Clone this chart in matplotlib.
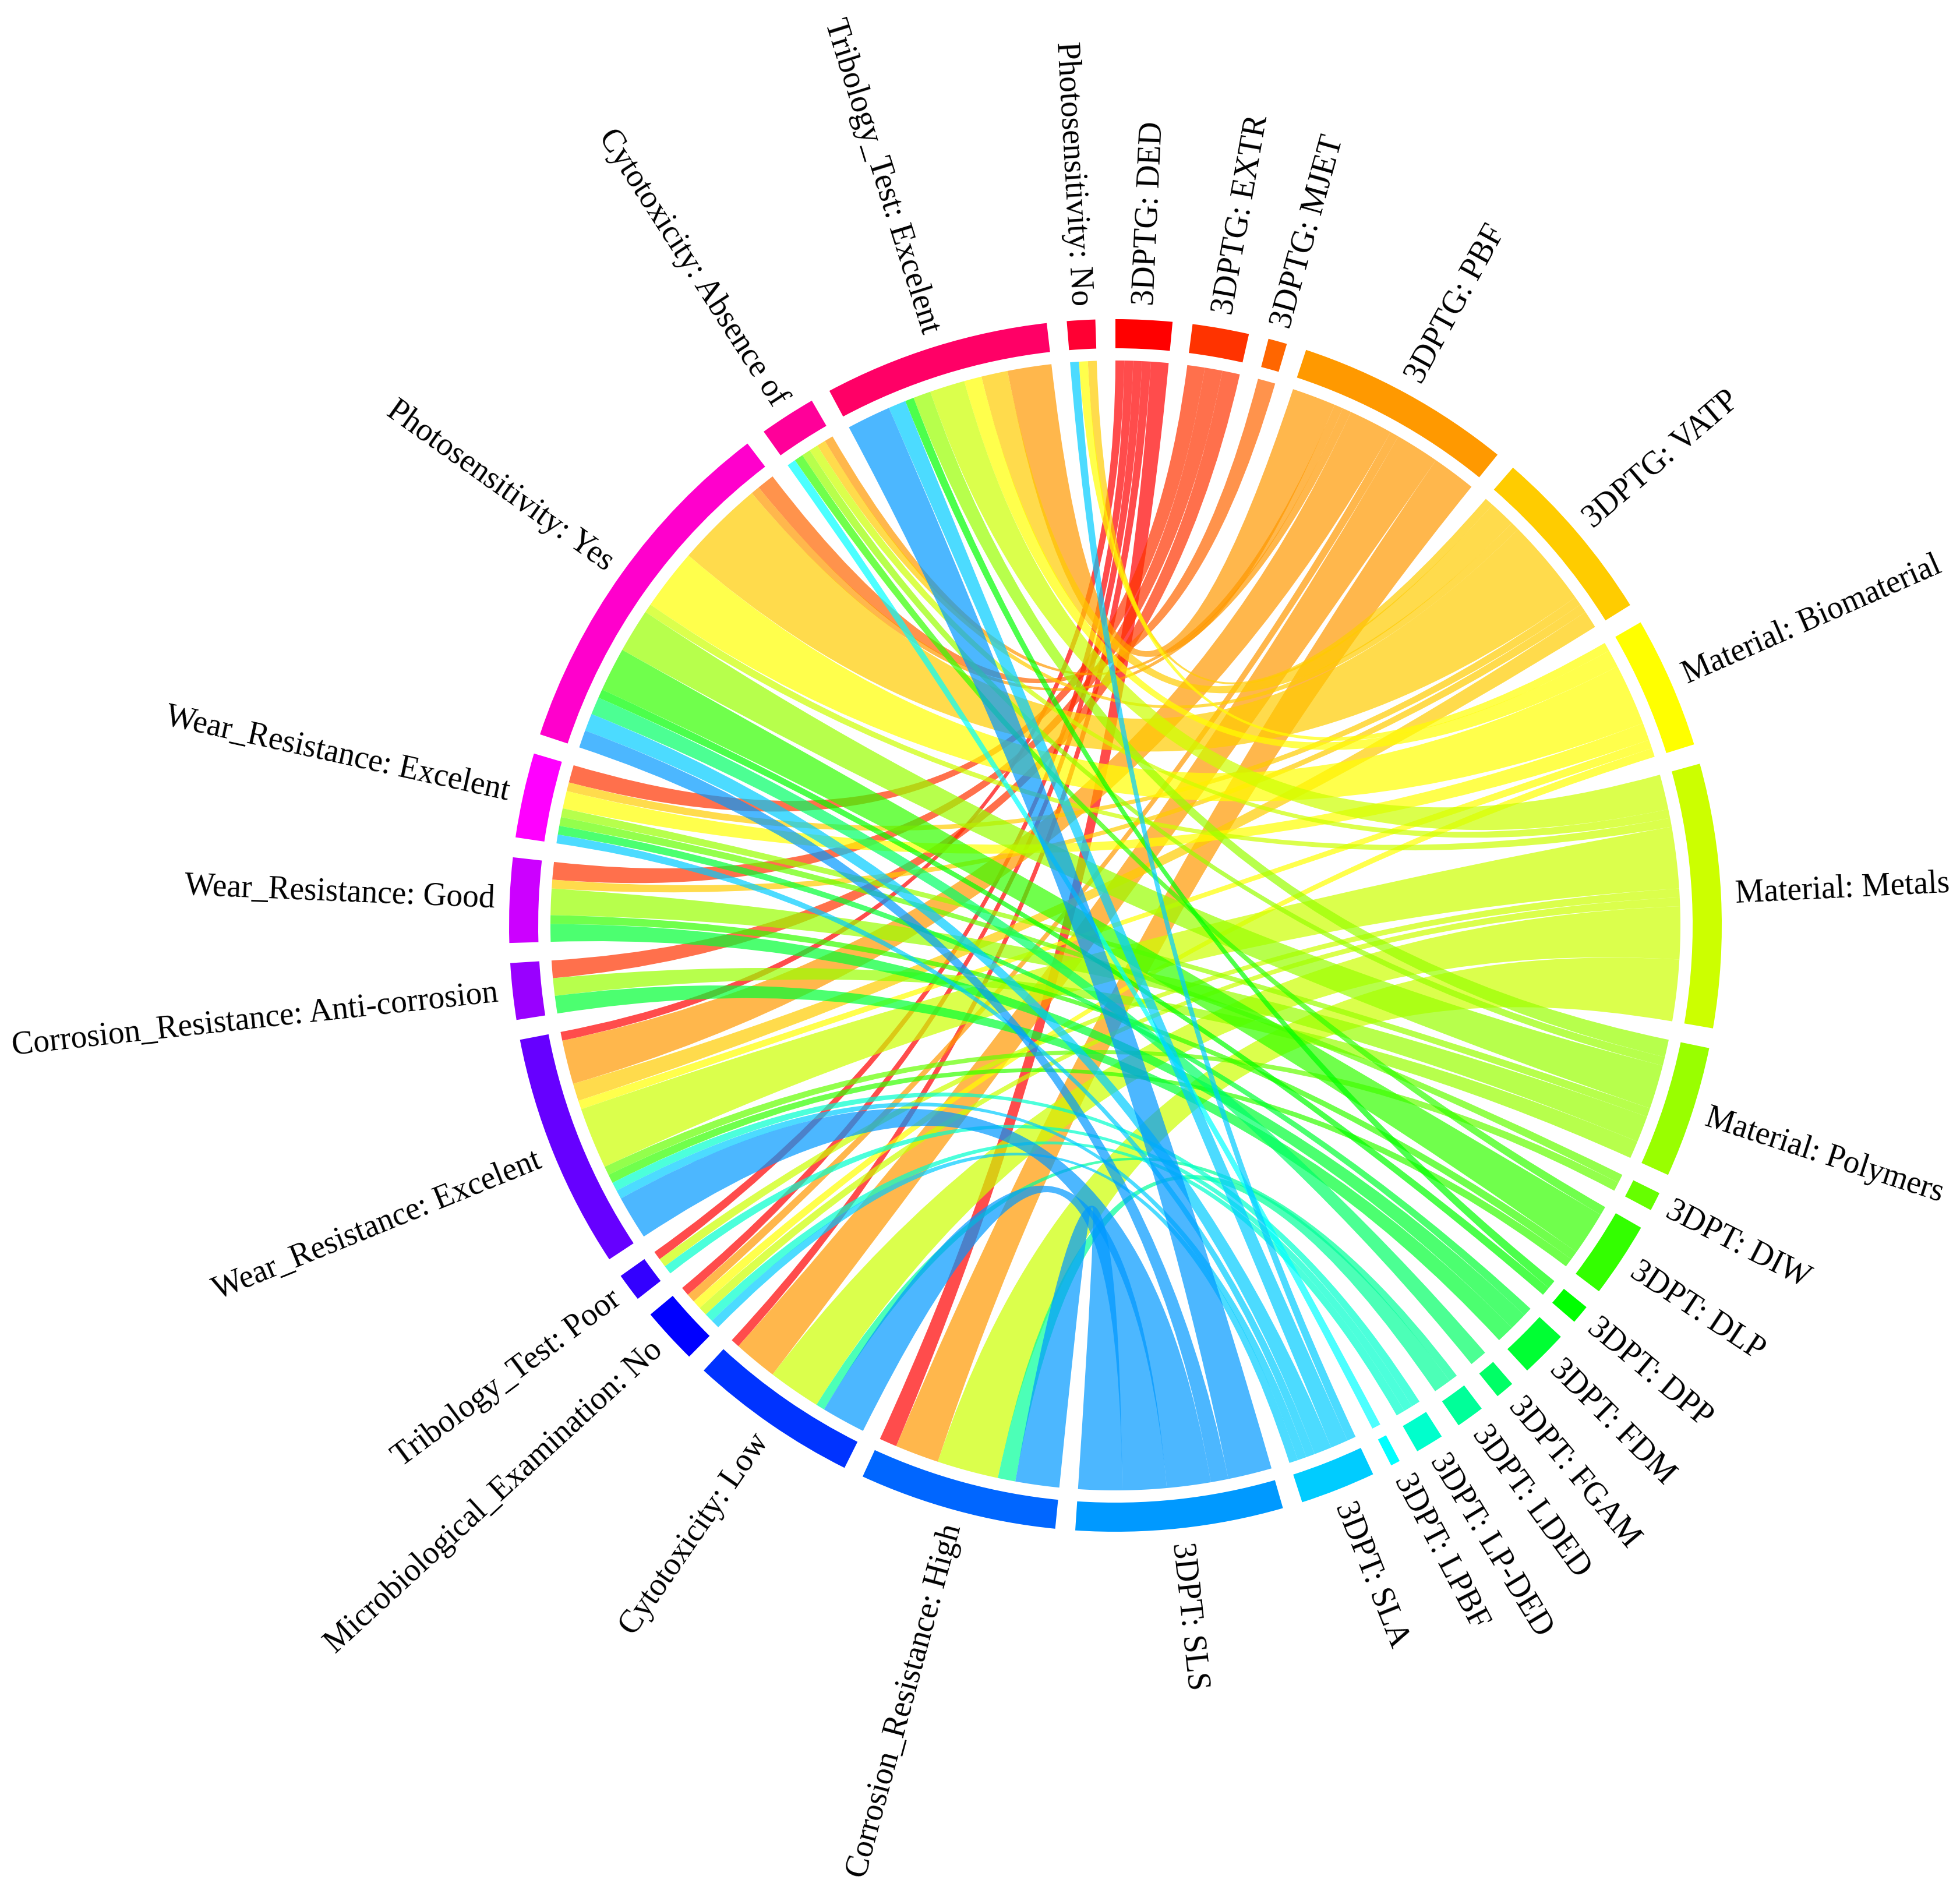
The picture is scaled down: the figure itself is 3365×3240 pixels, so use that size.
import colorsys
import numpy as np
import matplotlib
matplotlib.use("Agg")
import matplotlib.pyplot as plt
from matplotlib.patches import Wedge, PathPatch
from matplotlib.path import Path

plt.rcParams['font.family'] = ['Liberation Serif', 'DejaVu Serif']

sources = ["3DPTG: DED", "3DPTG: EXTR", "3DPTG: MJET", "3DPTG: PBF", "3DPTG: VATP",
           "Material: Biomaterial", "Material: Metals", "Material: Polymers",
           "3DPT: DIW", "3DPT: DLP", "3DPT: DPP", "3DPT: FDM", "3DPT: FGAM", "3DPT: LDED",
           "3DPT: LP-DED", "3DPT: LPBF", "3DPT: SLA", "3DPT: SLS"]
targets = ["Corrosion_Resistance: High", "Cytotoxicity: Low", "Microbiological_Examination: No",
           "Tribology_Test: Poor", "Wear_Resistance: Excelent", "Corrosion_Resistance: Anti-corrosion",
           "Wear_Resistance: Good", "Wear_Resistance: Excelent", "Photosensitivity: Yes",
           "Cytotoxicity: Absence of", "Tribology_Test: Excelent", "Photosensitivity: No"]

# one list per target, one value per source (same order as sources)
#                   DED EX MJ PBF VA Bi Me Po DI DL DP FD FG LD LP LB SA SS
corrosion_high   = [2, 0, 0, 5, 0, 0, 7, 0, 0, 0, 0, 0, 0, 2, 0, 0, 0, 5]
cytotox_low      = [1, 0, 0, 5, 0, 0, 6, 0, 0, 0, 0, 0, 0, 1, 0, 0, 0, 5]
microbio_no      = [1, 0, 0, 1, 0, 1, 1, 0, 0, 0, 0, 0, 0, 0, 1, 0, 1, 0]
tribology_poor   = [1, 0, 0, 0, 0, 0, 1, 0, 0, 0, 0, 0, 0, 0, 1, 0, 0, 0]
wear_excel_a     = [1, 0, 0, 5, 2, 1, 7, 0, 1, 1, 0, 0, 0, 0, 1, 0, 1, 5]
corrosion_anti   = [0, 2, 0, 0, 0, 0, 0, 2, 0, 0, 0, 2, 0, 0, 0, 0, 0, 0]
wear_good        = [0, 2, 0, 0, 1, 0, 0, 3, 0, 1, 0, 2, 0, 0, 0, 0, 0, 0]
wear_excel_b     = [0, 2, 0, 0, 1, 2, 0, 1, 1, 0, 0, 1, 0, 0, 0, 0, 1, 0]
photo_yes        = [0, 0, 2, 1, 10, 7, 1, 5, 0, 5, 1, 0, 2, 0, 0, 0, 2, 2]
cytotox_absence  = [0, 0, 0, 1, 1, 0, 1, 1, 0, 1, 0, 0, 0, 0, 0, 1, 0, 0]
tribology_excel  = [0, 0, 0, 5, 3, 2, 4, 2, 0, 0, 1, 0, 0, 0, 0, 0, 2, 5]
photo_no         = [0, 0, 0, 0, 1, 1, 0, 0, 0, 0, 0, 0, 0, 0, 0, 0, 1, 0]

flows = np.array([corrosion_high, cytotox_low, microbio_no, tribology_poor, wear_excel_a,
                  corrosion_anti, wear_good, wear_excel_b, photo_yes, cytotox_absence,
                  tribology_excel, photo_no], dtype=float)

W, H = 3365, 3240
CX, CY = 1915, H - 1589
R_OUT, R_IN, R_RIB, R_TXT = 1041, 991, 970, 1066
GAP = 1.9
ALPHA = 0.7
FONT = 40

ns, nt = len(sources), len(targets)
names = sources + targets
sizes = np.concatenate([flows.sum(axis=0), flows.sum(axis=1)])
unit = (360 - GAP * (ns + nt)) / sizes.sum()
colors = [colorsys.hsv_to_rgb(i / (ns + nt), 1, 1) for i in range(ns + nt)]


def pt(angle, r):
    a = np.radians(angle)
    return CX + r * np.sin(a), CY + r * np.cos(a)


fig = plt.figure(figsize=(W / 100, H / 100), dpi=100)
ax = fig.add_axes([0, 0, 1, 1])
ax.set_xlim(0, W)
ax.set_ylim(0, H)
ax.axis("off")

starts = []
pos = 0.0
for i, name in enumerate(names):
    starts.append(pos)
    end = pos + sizes[i] * unit
    ax.add_patch(Wedge((CX, CY), R_OUT, 90 - end, 90 - pos, width=R_OUT - R_IN,
                       facecolor=colors[i], edgecolor="none"))
    mid = (pos + end) / 2
    x, y = pt(mid, R_TXT)
    if mid < 180:
        ax.text(x, y, name, rotation=90 - mid, rotation_mode="anchor",
                ha="left", va="center", fontsize=FONT, color="black")
    else:
        ax.text(x, y, name, rotation=270 - mid, rotation_mode="anchor",
                ha="right", va="center", fontsize=FONT, color="black")
    pos = end + GAP

# segment positions: clockwise on a source the last target comes first;
# clockwise on a target the last source comes first
src_seg = {}
for s in range(ns):
    p = starts[s]
    for t in range(nt - 1, -1, -1):
        v = flows[t, s] * unit
        src_seg[(s, t)] = (p, p + v)
        p += v
tgt_seg = {}
for t in range(nt):
    p = starts[ns + t]
    for s in range(ns - 1, -1, -1):
        v = flows[t, s] * unit
        tgt_seg[(s, t)] = (p, p + v)
        p += v


def arc(a0, a1, n=24):
    return [pt(a, R_RIB) for a in np.linspace(a0, a1, n)]


for s in range(ns):
    for t in range(nt):
        if flows[t, s] <= 0:
            continue
        a0, a1 = src_seg[(s, t)]
        b0, b1 = tgt_seg[(s, t)]
        va = arc(a0, a1)
        vb = arc(b0, b1)
        verts = list(va) + [(CX, CY), vb[0]] + vb[1:] + [(CX, CY), va[0]]
        codes = ([Path.MOVETO] + [Path.LINETO] * (len(va) - 1) + [Path.CURVE3, Path.CURVE3]
                 + [Path.LINETO] * (len(vb) - 1) + [Path.CURVE3, Path.CURVE3])
        ax.add_patch(PathPatch(Path(verts, codes), facecolor=colors[s], alpha=ALPHA,
                               edgecolor="none", linewidth=0))

fig.savefig("out.png", dpi=100, facecolor="white")
